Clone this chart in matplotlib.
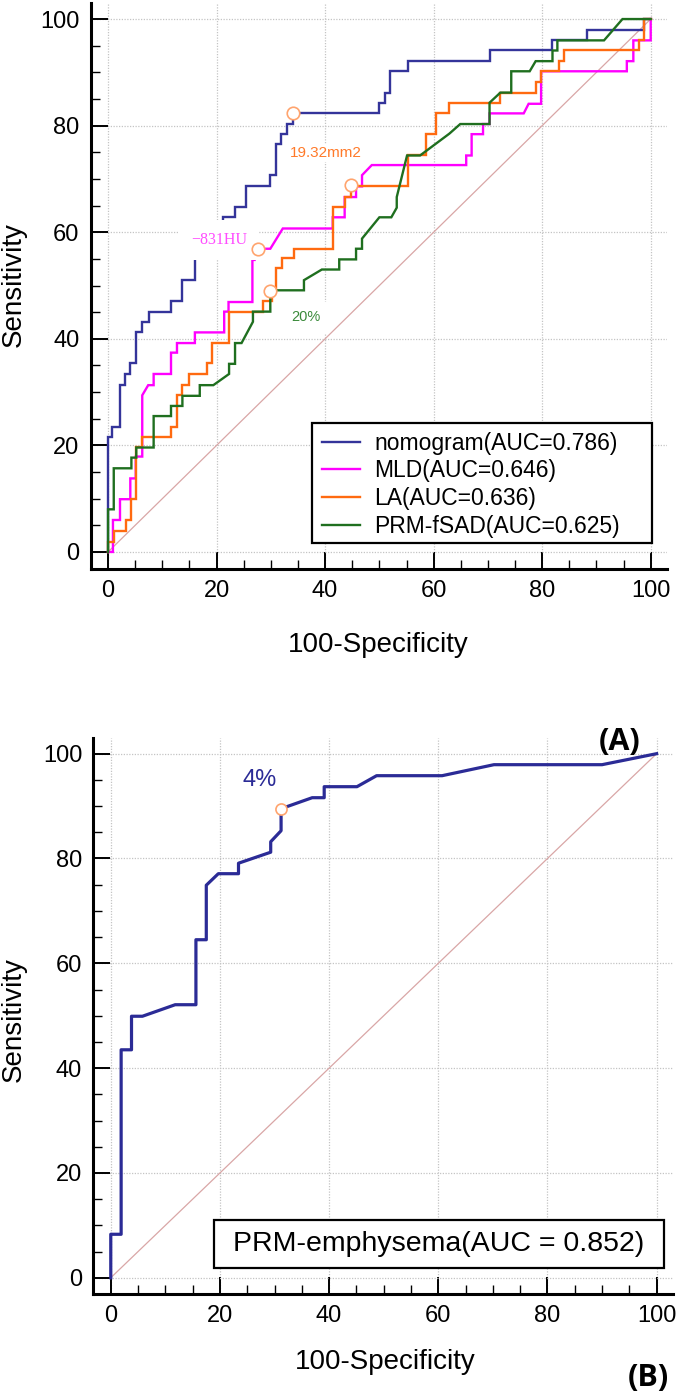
import matplotlib
matplotlib.use("Agg")
import matplotlib.pyplot as plt
from matplotlib.ticker import MultipleLocator
from matplotlib.patches import Rectangle

# ---------------- data ----------------
# Panel A: ROC curves (x = 100-Specificity, y = Sensitivity)
nomo_x = [0, 0, 0.8, 0.8, 2.2, 2.2, 3.1, 3.1, 4.1, 4.1, 5.2, 5.2, 6.3, 6.3, 7.5, 7.5,
          11.6, 11.6, 13.7, 13.7, 16.0, 16.0, 18.1, 18.1, 21.2, 21.2, 23.4, 23.4,
          25.5, 25.5, 29.9, 29.9, 30.9, 30.9, 31.9, 31.9, 32.9, 32.9, 34.0, 34.0,
          50.0, 50.0, 51.0, 51.0, 52.0, 52.0, 55.2, 55.2, 70.3, 70.3, 81.9, 81.9,
          88.2, 88.2, 98.8, 98.8, 100]
nomo_y = [0, 21.6, 21.6, 23.5, 23.5, 31.3, 31.3, 33.4, 33.4, 35.4, 35.4, 41.2, 41.2,
          43.1, 43.1, 45.1, 45.1, 47.1, 47.1, 51.0, 51.0, 57.6, 57.6, 59.6, 59.6,
          62.8, 62.8, 64.7, 64.7, 68.6, 68.6, 70.7, 70.7, 76.5, 76.5, 78.4, 78.4,
          80.4, 80.4, 82.4, 82.4, 84.3, 84.3, 86.1, 86.1, 90.2, 90.2, 92.1, 92.1,
          94.1, 94.1, 96.0, 96.0, 97.9, 97.9, 100, 100]

mld_x = [0, 0.9, 0.9, 2.2, 2.2, 4.1, 4.1, 5.1, 5.1, 6.3, 6.3, 7.4, 8.4, 8.4, 11.6,
         11.6, 12.7, 12.7, 16.0, 16.0, 21.4, 21.4, 22.2, 22.2, 26.6, 26.6, 27.0,
         27.0, 29.9, 32.2, 41.4, 41.4, 43.6, 43.6, 45.7, 45.7, 46.8, 46.8, 48.6,
         66.0, 66.0, 67.0, 67.0, 69.1, 69.1, 70.3, 70.3, 76.6, 77.5, 79.8, 79.8,
         95.6, 95.6, 96.8, 96.8, 100, 100]
mld_y = [0, 0, 6.0, 6.0, 9.9, 9.9, 13.8, 13.8, 17.9, 17.9, 29.4, 31.3, 31.3, 33.4,
         33.4, 37.4, 37.4, 39.2, 39.2, 41.2, 41.2, 45.1, 45.1, 46.9, 46.9, 54.8,
         54.8, 56.9, 56.9, 60.7, 60.7, 62.8, 62.8, 66.6, 66.6, 68.6, 68.6, 70.7,
         72.6, 72.6, 74.4, 74.4, 78.4, 78.4, 80.3, 80.3, 82.3, 82.3, 84.1, 84.1,
         90.2, 90.2, 92.1, 92.1, 96.0, 96.0, 100]

la_x = [0, 0, 1.05, 1.05, 3.3, 3.3, 4.3, 4.3, 5.2, 5.2, 6.3, 6.3, 11.6, 11.6, 12.7,
        12.7, 13.7, 13.7, 15.0, 15.0, 18.2, 18.2, 19.1, 19.1, 22.3, 22.3, 28.6,
        28.6, 30.3, 30.3, 30.9, 30.9, 32.0, 32.0, 34.2, 34.2, 41.4, 41.4, 43.6,
        43.6, 44.7, 44.7, 55.3, 55.3, 58.5, 58.5, 60.5, 60.5, 62.8, 62.8, 72.3,
        72.3, 78.8, 78.8, 79.8, 79.8, 83.1, 83.1, 84.0, 84.0, 97.9, 97.9, 98.8,
        98.8, 100]
la_y = [0, 1.9, 1.9, 4.0, 4.0, 6.0, 6.0, 9.9, 9.9, 19.7, 19.7, 21.6, 21.6, 23.5,
        23.5, 29.4, 29.4, 31.3, 31.3, 33.4, 33.4, 35.4, 35.4, 39.2, 39.2, 45.1,
        45.1, 47.1, 47.1, 49.1, 49.1, 53.2, 53.2, 55.1, 55.1, 56.9, 56.9, 64.7,
        64.7, 66.6, 66.6, 68.6, 68.6, 74.4, 74.4, 78.4, 78.4, 82.3, 82.3, 84.3,
        84.3, 86.2, 86.2, 88.2, 88.2, 90.2, 90.2, 92.1, 92.1, 94.1, 94.1, 96.0,
        96.0, 100, 100]

fsad_x = [0, 0, 1.05, 1.05, 4.3, 4.3, 5.2, 5.2, 8.4, 8.4, 11.6, 11.6, 13.7, 13.7,
          16.9, 16.9, 19.4, 22.3, 22.3, 23.4, 23.4, 24.6, 26.7, 26.7, 29.9, 29.9,
          36.1, 36.1, 39.4, 42.6, 42.6, 45.7, 45.7, 46.8, 46.8, 50.0, 52.2, 53.2,
          53.2, 55.1, 57.5, 62.9, 64.9, 70.3, 70.3, 72.3, 74.3, 74.3, 77.7, 78.8,
          81.9, 81.9, 82.8, 82.8, 91.4, 94.8, 100]
fsad_y = [0, 8.0, 8.0, 15.7, 15.7, 17.7, 17.7, 19.6, 19.6, 25.5, 25.5, 27.4, 27.4,
          29.3, 29.3, 31.3, 31.3, 33.4, 35.3, 35.3, 39.2, 39.2, 43.2, 45.1, 45.1,
          49.1, 49.1, 51.0, 53.0, 53.0, 54.9, 54.9, 56.9, 56.9, 58.8, 62.8, 62.8,
          64.6, 66.6, 74.4, 74.4, 78.5, 80.3, 80.3, 84.3, 86.2, 86.2, 90.2, 90.2,
          92.1, 92.1, 94.1, 94.1, 96.0, 96.0, 100, 100]

labels_a = ["nomogram(AUC=0.786)", "MLD(AUC=0.646)", "LA(AUC=0.636)",
            "PRM-fSAD(AUC=0.625)"]
# cut-off points (circles) and their texts
cut_x = [34.0, 27.7, 44.8, 29.9]
cut_y = [82.4, 56.9, 68.8, 49.0]
cut_texts = ["19.32mm2", "\u2212831HU", "", "20%"]
cut_text_x = [33.5, 20.4, None, 33.7]
cut_text_y = [74.9, 58.6, None, 44.0]

# Panel B
emph_x = [0, 0, 1.9, 1.9, 3.8, 3.8, 5.8, 11.8, 15.6, 15.6, 17.5, 17.5, 19.7, 23.4,
          23.4, 29.3, 29.3, 31.2, 31.2, 36.9, 39.1, 39.1, 45.1, 48.7, 60.7, 70.2,
          90.0, 100]
emph_y = [0, 8.3, 8.3, 43.5, 43.5, 49.9, 49.9, 52.1, 52.1, 64.5, 64.5, 74.9, 77.1,
          77.1, 79.1, 81.2, 83.2, 85.3, 89.5, 91.6, 91.6, 93.7, 93.7, 95.8, 95.8,
          97.9, 97.9, 100]
label_b = "PRM-emphysema(AUC = 0.852)"
cut_b = (31.2, 89.5)
cut_b_text = "4%"

ticks = [0, 20, 40, 60, 80, 100]

# ---------------- styling ----------------
plt.rcParams['font.family'] = ['Liberation Sans', 'DejaVu Sans']
NAVY = "#34349a"
NAVY_B = "#2b2b96"
MAG = "#ff00ff"
ORG = "#ff6a10"
GRN = "#1f6f1f"
DIAG = "#d9a6a6"
MARK = "#ffa46e"

fig = plt.figure(figsize=(6.85, 13.95), dpi=100)
axA = fig.add_axes([0.1324, 0.5923, 0.8413, 0.4055])
axB = fig.add_axes([0.1362, 0.0722, 0.8463, 0.3988])


def style_axes(ax):
    ax.set_xlim(-3.2, 103)
    ax.set_ylim(-3.15, 103)
    for s in ("top", "right"):
        ax.spines[s].set_visible(False)
    for s in ("left", "bottom"):
        ax.spines[s].set_linewidth(2.2)
        ax.spines[s].set_color("black")
    ax.set_xticks(ticks)
    ax.set_yticks(ticks)
    ax.xaxis.set_minor_locator(MultipleLocator(5))
    ax.yaxis.set_minor_locator(MultipleLocator(5))
    ax.tick_params(which="major", direction="in", length=12.5, width=1.4,
                   labelsize=17, pad=8, colors="black")
    ax.tick_params(which="minor", direction="in", length=6.5, width=1.0)
    ax.tick_params(axis="x", which="both", top=False)
    ax.tick_params(axis="y", which="both", right=False)
    ax.grid(which="major", color="#c4c4c4", linestyle=(0, (1, 1.2)), linewidth=0.9)
    ax.set_axisbelow(True)
    ax.plot([0, 100], [0, 100], color=DIAG, lw=0.9, zorder=2)


style_axes(axA)
style_axes(axB)

# ---- Panel A ----
series = [(nomo_x, nomo_y, NAVY), (mld_x, mld_y, MAG), (la_x, la_y, ORG),
          (fsad_x, fsad_y, GRN)]
handles = []
for (xs, ys, c), lab in zip(series, labels_a):
    h, = axA.plot(xs, ys, color=c, lw=1.7, zorder=3, label=lab,
                  solid_joinstyle="miter")
    handles.append(h)

txt_colors = ["#ff7a2a", "#ff4cff", ORG, "#3a8a3a"]
txt_fonts = ["Liberation Sans", "Liberation Serif", "Liberation Sans", "Liberation Sans"]
txt_sizes = [11, 11.5, 11, 10.5]
txt_pads = [0.15, 0.75, 0.3, 0.6]
for i in range(4):
    if cut_texts[i]:
        axA.text(cut_text_x[i], cut_text_y[i], cut_texts[i], color=txt_colors[i],
                 fontsize=txt_sizes[i], family=[txt_fonts[i], "DejaVu Sans"],
                 ha="center" if i == 1 else "left", va="center", zorder=4,
                 bbox=dict(facecolor="white", edgecolor="none",
                           boxstyle="square,pad=%g" % txt_pads[i]))
axA.plot(cut_x, cut_y, linestyle="none", marker="o", markersize=9,
         markerfacecolor="white", markeredgecolor=MARK, markeredgewidth=1.2,
         zorder=6)

# legend frame (drawn explicitly to match the reference box size)
frameA = Rectangle((37.65, 1.75), 62.5, 22.5, transform=axA.transData,
                   facecolor="white", edgecolor="black", lw=1.6, zorder=7)
axA.add_patch(frameA)
legA = axA.legend(handles=handles, loc="upper left",
                  bbox_to_anchor=(37.65, 24.25), bbox_transform=axA.transData,
                  borderaxespad=0, fontsize=16.5, frameon=False,
                  handlelength=1.7, handletextpad=0.6, labelspacing=0.2,
                  borderpad=0.4)
legA.set_zorder(8)

fig.text(0.552, 0.5376, "100-Specificity", fontsize=20, ha="center", va="center")
fig.text(0.0204, 0.7957, "Sensitivity", fontsize=20, rotation=90,
         ha="center", va="center")
fig.text(0.905, 0.468, "(A)", fontsize=22, fontweight="bold",
         family=["Open Sans", "DejaVu Sans"], ha="center", va="center")

# ---- Panel B ----
hB, = axB.plot(emph_x, emph_y, color=NAVY_B, lw=2.3, zorder=3, label=label_b)
axB.text(27.3, 95.0, cut_b_text, color=NAVY_B, fontsize=17, ha="center",
         va="center", zorder=4)
axB.plot([cut_b[0]], [cut_b[1]], linestyle="none", marker="o", markersize=8,
         markerfacecolor="white", markeredgecolor=MARK, markeredgewidth=1.2,
         zorder=6)
frameB = Rectangle((18.9, 1.85), 82.4, 9.15, transform=axB.transData,
                   facecolor="white", edgecolor="black", lw=1.6, zorder=7,
                   clip_on=False)
axB.add_patch(frameB)
legB = axB.legend(handles=[hB], loc="center", bbox_to_anchor=(60.1, 6.45),
                  bbox_transform=axB.transData, borderaxespad=0, fontsize=20.5,
                  frameon=False, handlelength=0, handletextpad=0, borderpad=0)
for ln in legB.get_lines():
    ln.set_visible(False)
legB.set_zorder(8)

fig.text(0.562, 0.0237, "100-Specificity", fontsize=20, ha="center", va="center")
fig.text(0.0204, 0.2688, "Sensitivity", fontsize=20, rotation=90,
         ha="center", va="center")
fig.text(0.946, 0.0122, "(B)", fontsize=22, fontweight="bold",
         family=["Open Sans", "DejaVu Sans"], ha="center", va="center")

fig.savefig("out.png", dpi=100, facecolor="white")
